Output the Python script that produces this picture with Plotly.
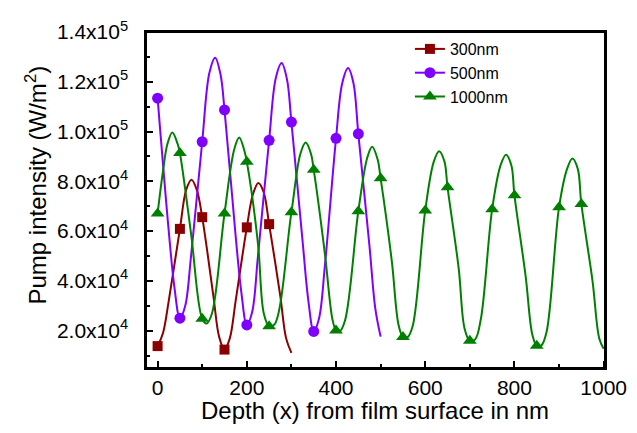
import plotly.graph_objects as go

# ---- data ----
# 300 nm film
red_curve_x = [0, 12, 25, 50, 64, 76, 88, 100, 125, 138, 150, 162, 175, 200, 214, 226, 238, 250, 275, 288, 300]
red_curve_y = [13800, 19000, 32000, 60900, 76500, 80600, 76500, 65600, 34000, 17500, 12400, 17000, 32000,
               61500, 75000, 79300, 75500, 62800, 34000, 17000, 11100]
red_mark_x = [0, 50, 100, 150, 200, 250]
red_mark_y = [13800, 60900, 65600, 12400, 61500, 62800]

# 500 nm film
pur_curve_x = [0, 25, 38, 50, 62, 75, 100, 116, 129, 141, 150, 175, 188, 200, 212, 225, 250, 265, 278, 290,
               300, 325, 338, 350, 362, 375, 400, 414, 427, 439, 450, 475, 488, 500]
pur_curve_y = [113400, 60000, 37000, 25000, 30000, 50000, 95900, 123500, 129700, 123000, 108700, 58000, 35000,
               22300, 27500, 50000, 96500, 121500, 127500, 121000, 103800, 56000, 32000, 19700, 25000, 46000,
               97300, 119500, 125500, 119500, 99100, 54000, 29000, 17600]
pur_mark_x = [0, 50, 100, 150, 200, 250, 300, 350, 400, 450]
pur_mark_y = [113400, 25000, 95900, 108700, 22300, 96500, 103800, 19700, 97300, 99100]

# 1000 nm film
grn_curve_x = [0, 12, 22, 33, 45, 50, 75, 100, 110, 122, 150, 172, 183, 195, 200, 225, 238, 250, 262,
               300, 320, 332, 344, 350, 375, 392, 400, 407, 420, 450, 470, 481, 493, 500, 525, 540, 550, 560, 572,
               600, 619, 631, 643, 650, 675, 688, 700, 712, 725, 750, 769, 781, 793, 800, 825, 840, 850, 860, 872,
               900, 918, 930, 942, 950, 975, 990, 1000]
grn_curve_y = [67100, 84000, 95000, 99600, 95000, 91400, 59000, 24800, 22900, 27000, 67100, 93000, 97600,
               92000, 87900, 55000, 27000, 21800, 22500, 67600, 91000, 95600, 91000, 84700, 51000, 24500,
               20100, 19500, 24000, 68000, 89500, 93900, 89000, 81200, 48000, 22500, 17500, 17300, 22000,
               68300, 87800, 92100, 88000, 77600, 45000, 21000, 15900, 16500, 25000, 68800, 86500, 90700,
               86500, 74400, 42000, 18500, 13900, 14000, 19500, 69600, 85000, 89200, 85000, 70900, 40000,
               17000, 12700]
grn_mark_x = [0, 50, 100, 150, 200, 250, 300, 350, 400, 450, 500, 550, 600, 650, 700, 750, 800, 850, 900, 950]
grn_mark_y = [67100, 91400, 24800, 67100, 87900, 21800, 67600, 84700, 20100, 68000, 81200, 17500, 68300,
              77600, 15900, 68800, 74400, 13900, 69600, 70900]

series_names = ["300nm", "500nm", "1000nm"]
series_colors = ["#8B0000", "#8000FF", "#008000"]
series_symbols = ["square", "circle", "triangle-up"]
series_sizes = [10, 11, 12]

y_tick_vals = [20000, 40000, 60000, 80000, 100000, 120000, 140000]
y_tick_text = ["2.0x10<sup>4</sup>", "4.0x10<sup>4</sup>", "6.0x10<sup>4</sup>", "8.0x10<sup>4</sup>",
               "1.0x10<sup>5</sup>", "1.2x10<sup>5</sup>", "1.4x10<sup>5</sup>"]
x_tick_vals = [0, 200, 400, 600, 800, 1000]
x_range = [-26, 1003]
y_range = [5000, 140000]
x_title = "Depth (x) from film surface in nm"
y_title = "Pump intensity (W/m<sup>2</sup>)"

curves = [(red_curve_x, red_curve_y, red_mark_x, red_mark_y),
          (pur_curve_x, pur_curve_y, pur_mark_x, pur_mark_y),
          (grn_curve_x, grn_curve_y, grn_mark_x, grn_mark_y)]

fig = go.Figure()
for (cx, cy, mx, my), name, col, sym, sz in zip(curves, series_names, series_colors, series_symbols, series_sizes):
    fig.add_trace(go.Scatter(x=cx, y=cy, mode="lines", line=dict(color=col, width=2, shape="spline", smoothing=1.0),
                             showlegend=False, hoverinfo="skip"))
    fig.add_trace(go.Scatter(x=mx, y=my, mode="markers", marker=dict(color=col, symbol=sym, size=sz),
                             showlegend=False, name=name))
# legend entries (line + marker)
for name, col, sym, sz in zip(series_names, series_colors, series_symbols, series_sizes):
    fig.add_trace(go.Scatter(x=[None], y=[None], mode="lines+markers", name=name,
                             line=dict(color=col, width=2), marker=dict(color=col, symbol=sym, size=sz)))

gap = "\u00a0\u00a0"  # space between y tick labels and the axis
font_family = "Liberation Sans, Arial, sans-serif"
fig.update_layout(
    width=629, height=425,
    margin=dict(l=138, r=27, t=10, b=65),
    paper_bgcolor="white", plot_bgcolor="white",
    font=dict(family=font_family, color="black", size=21),
    legend=dict(x=0.575, y=1.0, xanchor="left", yanchor="top", bgcolor="rgba(0,0,0,0)",
                font=dict(size=16, family=font_family)),
    xaxis=dict(range=x_range, tickvals=x_tick_vals, ticks="inside", ticklen=7, tickwidth=1.5, tickcolor="black",
               showline=True, linecolor="black", linewidth=2, mirror=True, showgrid=False, zeroline=False,
               tickfont=dict(size=21), ticklabeloverflow="allow", layer="above traces",
               minor=dict(dtick=100, tick0=0, ticks="inside", ticklen=4, tickwidth=1.5, tickcolor="black")),
    yaxis=dict(range=y_range, tickvals=y_tick_vals, ticktext=[t + gap for t in y_tick_text], ticks="inside",
               ticklen=7, tickwidth=1.5, tickcolor="black", showline=True, linecolor="black", linewidth=2,
               mirror=True, showgrid=False, zeroline=False, tickfont=dict(size=21), ticklabeloverflow="allow",
               layer="above traces",
               minor=dict(dtick=10000, tick0=0, ticks="inside", ticklen=4, tickwidth=1.5, tickcolor="black")),
    shapes=[dict(type="rect", xref="paper", yref="paper", x0=0, x1=1, y0=0, y1=1,
                 line=dict(color="black", width=2), fillcolor="rgba(0,0,0,0)", layer="above")],
    annotations=[
        dict(text=x_title, xref="paper", yref="paper", x=0.499, y=-0.126, xanchor="center", yanchor="middle",
             showarrow=False, font=dict(size=24)),
        dict(text=y_title, xref="paper", yref="paper", x=-0.239, y=0.544, xanchor="center", yanchor="middle",
             textangle=-90, showarrow=False, font=dict(size=24)),
    ],
)
fig.write_html(
    "out.html",
    post_script="var gd=document.getElementById('{plot_id}'); Plotly.relayout(gd, {'margin.t': 10});",
)
